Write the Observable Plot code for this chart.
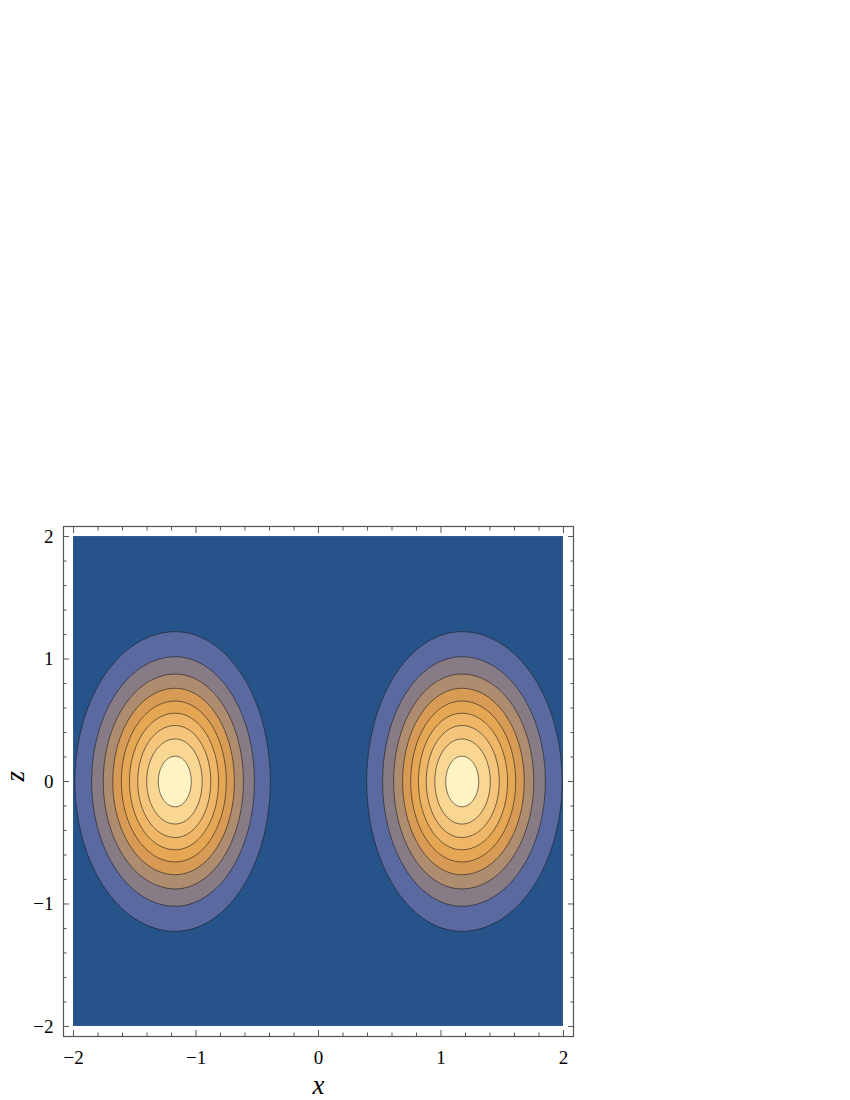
<!DOCTYPE html>
<html>
<head>
<meta charset="utf-8">
<script src="https://cdn.jsdelivr.net/npm/d3@7"></script>
<script src="https://cdn.jsdelivr.net/npm/@observablehq/plot@0.6"></script>
<style>
  html, body { margin: 0; padding: 0; background: #fff; }
  #chart svg { display: block; }
</style>
</head>
<body>
<div id="chart"></div>
<script>
// ---- data ----
const plotRange = [-2, 2];              // sampled region of x and z
const framePad = 0.082;                 // Mathematica plot-range padding
const majorTicks = [-2, -1, 0, 1, 2];
const minorTicks = [-1.8, -1.6, -1.4, -1.2, -0.8, -0.6, -0.4, -0.2, 0.2, 0.4, 0.6, 0.8, 1.2, 1.4, 1.6, 1.8];
const lobeCenterX = [-1.17, 1.17];      // peak positions along x (z = 0)
const lobeSigmaInner = [0.365, 0.365];  // width toward x = 0
const lobeSigmaOuter = [0.385, 0.385];  // width toward the edge
const lobeSigmaZ = [0.575, 0.575];      // width along z
const lobePeak = [0.96, 0.96];          // peak value
const levels = [0.1, 0.2, 0.3, 0.4, 0.5, 0.6, 0.7, 0.8, 0.9];
const backgroundColor = "#26548a";
const bandColors = ["#5a6aa0", "#877b86", "#ad8c70", "#d89b55", "#e6a755", "#eeb666", "#f4c57b", "#f9d692", "#fff3c4"];

function field(x, z) {
  let v = 0;
  for (let i = 0; i < lobeCenterX.length; i++) {
    const dx = x - lobeCenterX[i];
    const inner = Math.sign(dx) === -Math.sign(lobeCenterX[i]);
    const s = inner ? lobeSigmaInner[i] : lobeSigmaOuter[i];
    v += lobePeak[i] * Math.exp(-0.5 * (dx / s) ** 2 - 0.5 * (z / lobeSigmaZ[i]) ** 2);
  }
  return v;
}

const fmt = d => (d < 0 ? "\u2212" + (-d) : String(d));
const blank = () => "";
const tickColor = "#555";

const chart = Plot.plot({
  width: 850,
  height: 1100,
  marginTop: 526,
  marginBottom: 64,
  marginLeft: 63,
  marginRight: 277,
  x: {domain: [plotRange[0] - framePad, plotRange[1] + framePad]},
  y: {domain: [plotRange[0] - framePad, plotRange[1] + framePad]},
  color: {type: "ordinal", domain: levels, range: bandColors},
  style: {fontFamily: "'Liberation Serif', 'DejaVu Serif', serif", fontSize: "19px", color: "#000", background: "#fff"},
  marks: [
    Plot.rect([plotRange], {x1: d => d[0], x2: d => d[1], y1: d => d[0], y2: d => d[1], fill: backgroundColor}),
    Plot.contour({
      fill: field,
      x1: plotRange[0], x2: plotRange[1], y1: plotRange[0], y2: plotRange[1],
      thresholds: levels,
      pixelSize: 1,
      stroke: "#1a1a1a",
      strokeOpacity: 0.65,
      strokeWidth: 0.9
    }),
    Plot.frame({stroke: tickColor, strokeWidth: 1.2}),
    // inward ticks on all four sides
    Plot.axisX(majorTicks, {anchor: "bottom", tickSize: -6, tickFormat: blank, label: null, stroke: tickColor}),
    Plot.axisX(minorTicks, {anchor: "bottom", tickSize: -3.5, tickFormat: blank, label: null, stroke: tickColor}),
    Plot.axisX(majorTicks, {anchor: "top", tickSize: -6, tickFormat: blank, label: null, stroke: tickColor}),
    Plot.axisX(minorTicks, {anchor: "top", tickSize: -3.5, tickFormat: blank, label: null, stroke: tickColor}),
    Plot.axisY(majorTicks, {anchor: "left", tickSize: -6, tickFormat: blank, label: null, stroke: tickColor}),
    Plot.axisY(minorTicks, {anchor: "left", tickSize: -3.5, tickFormat: blank, label: null, stroke: tickColor}),
    Plot.axisY(majorTicks, {anchor: "right", tickSize: -6, tickFormat: blank, label: null, stroke: tickColor}),
    Plot.axisY(minorTicks, {anchor: "right", tickSize: -3.5, tickFormat: blank, label: null, stroke: tickColor}),
    // tick labels
    Plot.axisX(majorTicks, {anchor: "bottom", tickSize: 0, tickPadding: 14, tickFormat: fmt, label: null, fontSize: 19, fill: "#000"}),
    Plot.axisY(majorTicks, {anchor: "left", tickSize: 0, tickPadding: 10, tickFormat: fmt, label: null, fontSize: 19, fill: "#000"}),
    // axis labels
    Plot.text(["x"], {text: d => d, frameAnchor: "bottom", dy: 49, lineAnchor: "middle", fontSize: 27, fontStyle: "italic", fill: "#000"}),
    Plot.text(["z"], {text: d => d, frameAnchor: "left", dx: -48, rotate: -90, lineAnchor: "middle", fontSize: 27, fontStyle: "italic", fill: "#000"})
  ]
});
document.getElementById("chart").appendChild(chart);
</script>
</body>
</html>
